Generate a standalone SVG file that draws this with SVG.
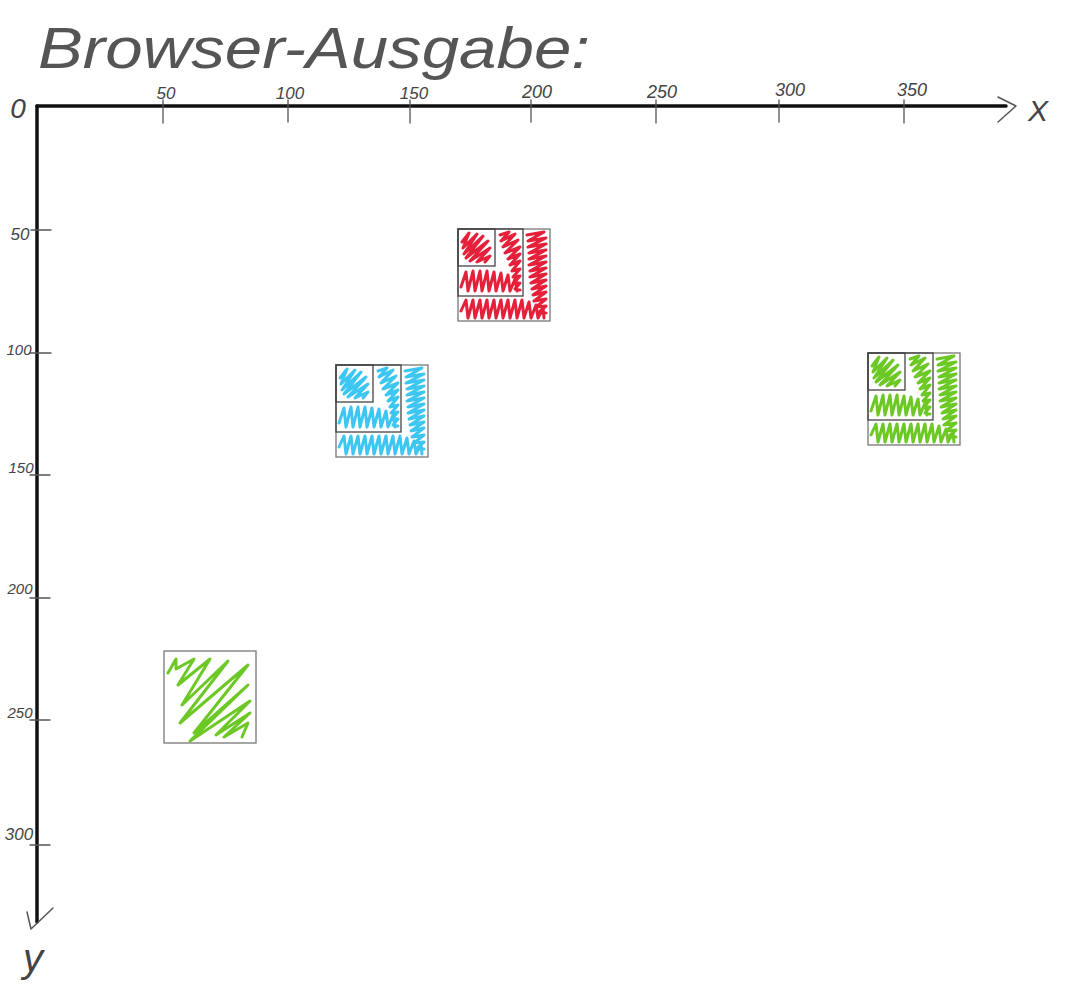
<svg xmlns="http://www.w3.org/2000/svg" xmlns:xlink="http://www.w3.org/1999/xlink" width="1086" height="999" viewBox="0 0 1086 999">
<style>
.hand{font-family:"Liberation Sans",Arial,sans-serif;font-style:italic;fill:#444}
.title{fill:#555}
.axis{stroke:#111;stroke-width:3.5;fill:none;stroke-linecap:round}
.tick{stroke:#555;stroke-width:1.3;fill:none;stroke-linecap:round}
.pen{stroke:#555;stroke-width:1.5;fill:none;stroke-linecap:round;stroke-linejoin:round}
.frame{fill:none;stroke:#777;stroke-width:1.3}
.inner{fill:none;stroke:#444;stroke-width:1.3}
.scr{fill:none;stroke-width:3;stroke-linejoin:round;stroke-linecap:round}
.red{stroke:#e4203a}.blue{stroke:#3ec6f2}.green{stroke:#6cc824}
</style>
<defs>
<g id="nested">
<path class="scr" d="M4,13 L11,4 L5,19 L19,5 L6,25 L25,7 L8,29 L30,12 L12,32 L32,19 L19,33 L32,27 L27,33"/>
<path class="scr" d="M42,6 L51,3 L43,12 L57,5 L45,18 L60,11 L47,24 L62,18 L50,30 L62,25 L52,36 L62,32 L54,42 L62,40 L55,48 L62,47 L56,54 L62,54 L57,60 L62,61"/>
<path class="scr" d="M3,58 L8,43 L10,62 L15,42 L17,62 L22,42 L24,62 L29,42 L31,62 L36,43 L38,62 L43,44 L45,62 L50,46 L52,62 L57,50 L59,62"/>
<path class="scr" d="M69,6 L86,3 L70,12 L88,9 L70,18 L88,15 L71,24 L88,21 L71,30 L88,27 L71,36 L88,33 L72,42 L88,39 L72,48 L88,45 L73,54 L88,51 L74,60 L88,57 L75,66 L88,63 L76,72 L88,70 L78,78 L88,77 L80,84 L88,84"/>
<path class="scr" d="M3,82 L8,71 L10,89 L15,71 L17,89 L22,71 L24,89 L29,71 L31,89 L36,71 L38,89 L43,71 L45,89 L50,71 L52,89 L57,71 L59,89 L64,71 L66,89 L71,73 L73,89 L78,76 L80,89 L85,79 L86,89"/>
<rect class="frame" x="0" y="0" width="92" height="92"/>
<rect class="inner" x="0" y="0" width="65" height="67"/>
<rect class="inner" x="0" y="0" width="37" height="37"/>
</g>
</defs>
<rect width="1086" height="999" fill="#fff"/>
<text class="hand title" x="38" y="68" font-size="58" textLength="552" lengthAdjust="spacingAndGlyphs">Browser-Ausgabe:</text>
<g id="connectors">
<path class="axis" d="M37,106 L1006,106"/>
<path class="axis" d="M37,106 L37,922"/>
<path class="pen" d="M998,97 L1016,106 L998,122"/>
<path class="pen" d="M27,912 L31,929 L53,908"/>
</g>
<g id="ticks">
<path class="tick" d="M163,100 V123 M288,100 V122 M410,100 V123 M531,100 V122 M656,100 V123 M779,100 V122 M904,100 V123"/>
<path class="tick" d="M31,230 H51 M30,353 H51 M30,475 H50 M30,598 H50 M30,720 H50 M30,845 H50"/>
</g>
<g id="labels">
<text class="hand" x="18" y="118" font-size="28" text-anchor="middle">0</text>
<text class="hand" x="166" y="99" font-size="17" text-anchor="middle">50</text>
<text class="hand" x="290" y="99" font-size="17" text-anchor="middle">100</text>
<text class="hand" x="414" y="99" font-size="17" text-anchor="middle">150</text>
<text class="hand" x="537" y="98" font-size="18" text-anchor="middle">200</text>
<text class="hand" x="662" y="98" font-size="18" text-anchor="middle">250</text>
<text class="hand" x="790" y="96" font-size="18" text-anchor="middle">300</text>
<text class="hand" x="912" y="96" font-size="18" text-anchor="middle">350</text>
<text class="hand" x="1038" y="121" font-size="30" text-anchor="middle">X</text>
<text class="hand" x="20" y="240" font-size="17" text-anchor="middle">50</text>
<text class="hand" x="19" y="355" font-size="15" text-anchor="middle">100</text>
<text class="hand" x="21" y="473" font-size="15" text-anchor="middle">150</text>
<text class="hand" x="20" y="594" font-size="15" text-anchor="middle">200</text>
<text class="hand" x="20" y="718" font-size="15" text-anchor="middle">250</text>
<text class="hand" x="19" y="840" font-size="17" text-anchor="middle">300</text>
<text class="hand" x="33" y="972" font-size="40" text-anchor="middle">y</text>
</g>
<g id="box-red" class="red"><use xlink:href="#nested" x="458" y="229"/></g>
<g id="box-blue" class="blue"><use xlink:href="#nested" x="336" y="365"/></g>
<g id="box-green-right" class="green"><use xlink:href="#nested" x="868" y="353"/></g>
<g id="box-green-left" transform="translate(164,651)">
<path class="scr green" d="M4,22 L12,8 L12,18 L30,8 L14,34 L46,8 L18,54 L64,10 L16,72 L84,14 L30,82 L84,34 L26,90 L86,50 L52,84 L86,62 L60,86 L84,72 L78,86"/>
<rect class="frame" x="0" y="0" width="92" height="92"/>
</g>
</svg>
